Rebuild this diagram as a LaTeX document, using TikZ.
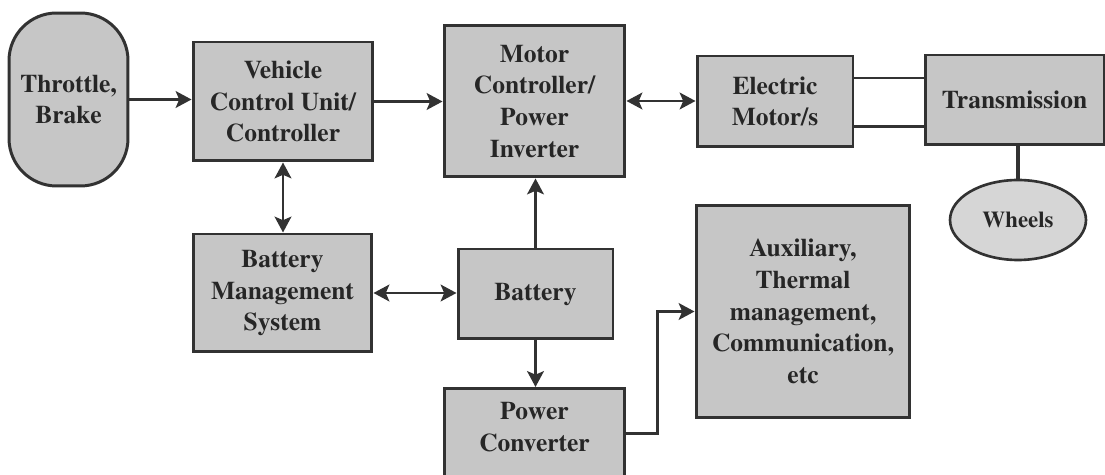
\documentclass[tikz,border=0pt]{standalone}
\usepackage[T1]{fontenc}
\usepackage{times}
\usetikzlibrary{arrows.meta,shapes.geometric}
\definecolor{boxfill}{RGB}{198,198,198}
\definecolor{wheelfill}{RGB}{214,214,214}
\definecolor{edgegray}{RGB}{50,50,50}
\definecolor{inkgray}{RGB}{38,38,38}
\begin{document}
\begin{tikzpicture}[x=0.02cm,y=-0.02cm,
        font=\bfseries\fontsize{14.5}{18}\selectfont,
        block/.style={draw=edgegray,line width=1.7pt,fill=boxfill,
            text=inkgray,align=center,inner sep=2pt},
        link/.style={draw=edgegray,line width=1.6pt},
        arr/.style={link,-{Stealth[length=9pt,width=9.5pt,inset=2pt]}},
        darr/.style={link,{Stealth[length=9pt,width=9.5pt,inset=2pt]}-{Stealth[length=9pt,width=9.5pt,inset=2pt]}}]
        \useasboundingbox (0,0) rectangle (1105,475);
        \clip (0,0) rectangle (1105,475);

        % Top row: pedals, controllers, motor, transmission.
        \node[block,rounded corners=0.95cm,minimum width=2.38cm,
            minimum height=3.46cm] (throttle) at (68.5,99.5)
            {Throttle,\\Brake};
        \node[block,minimum width=3.6cm,minimum height=2.38cm] (vcu)
            at (283,101.5) {Vehicle\\Control Unit/\\Controller};
        \node[block,minimum width=3.62cm,minimum height=3.04cm] (mc)
            at (534.5,101) {Motor\\Controller/\\Power\\Inverter};
        \node[block,minimum width=3.12cm,minimum height=1.82cm] (motor)
            at (775,101.5) {Electric\\Motor/s};
        \node[block,minimum width=3.58cm,minimum height=1.8cm] (trans)
            at (1014.5,100) {Transmission};
        \node[ellipse,draw=edgegray,line width=1.5pt,fill=wheelfill,
            text=inkgray,minimum width=2.72cm,minimum height=1.6cm,
            font=\bfseries\fontsize{13}{16}\selectfont] (wheels)
            at (1018,220) {Wheels};

        % Lower row: battery side and auxiliary loads.
        \node[block,minimum width=3.58cm,minimum height=2.36cm] (bms)
            at (282.5,293) {Battery\\Management\\System};
        \node[block,minimum width=3.1cm,minimum height=1.8cm] (battery)
            at (535.5,294) {Battery};
        \node[block,anchor=north,minimum width=3.62cm,minimum height=1.9cm,
            label={[align=center,text=inkgray,yshift=0.18cm]center:Power\\Converter}]
            (pc) at (534.5,387) {};
        \node[block,minimum width=4.28cm,minimum height=4.26cm] (aux)
            at (803,311.5)
            {Auxiliary,\\Thermal\\management,\\Communication,\\etc};

        % Connectors.
        \draw[arr] (throttle.east) -- (throttle.east -| vcu.west);
        \draw[arr] (vcu.east) -- (vcu.east -| mc.west);
        \draw[darr] (mc.east) -- (mc.east -| motor.west);
        \draw[link] ([yshift=0.47cm]motor.east) --
            ([yshift=0.47cm]motor.east -| trans.west);
        \draw[link] ([yshift=-0.5cm]motor.east) --
            ([yshift=-0.5cm]motor.east -| trans.west);
        \draw[edgegray,line width=2.8pt] (wheels.north) --
            (wheels.north |- trans.south);
        \draw[darr] (vcu.south) -- (vcu.south |- bms.north);
        \draw[darr] (bms.east) -- (bms.east -| battery.west);
        \draw[arr] (battery.north) -- (battery.north |- mc.south);
        \draw[arr] (battery.south) -- (battery.south |- pc.north);
        \draw[arr] ([yshift=0.05cm]pc.east) -- ++(31,0) |- (aux.west);
    \end{tikzpicture}
\end{document}
